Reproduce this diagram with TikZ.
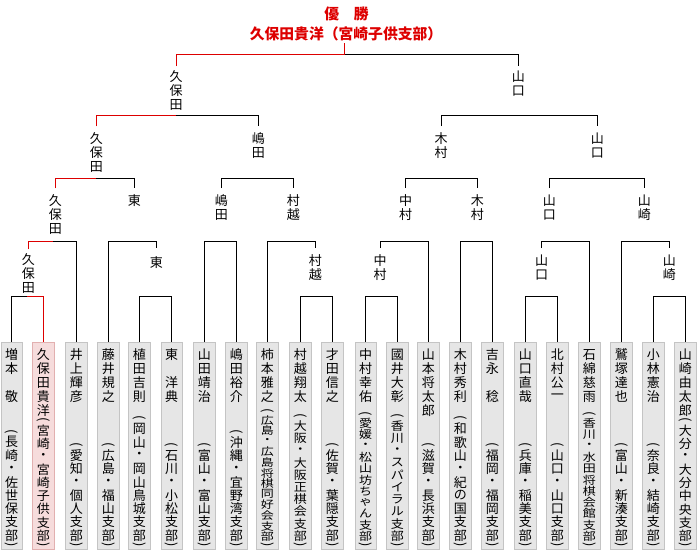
\documentclass[tikz,border=0pt]{standalone}
\usepackage{fontspec}
\setmainfont{Noto Sans CJK JP}
\usepackage{graphicx}
\definecolor{wred}{HTML}{DD0000}
\definecolor{boxfill}{HTML}{E6E6E6}
\definecolor{boxline}{HTML}{C4C4C4}
\definecolor{winfill}{HTML}{F6DCDC}
\definecolor{winline}{HTML}{E2B0B0}
\makeatletter
\newdimen\vpitch
\def\vscl{1}
\def\lpm{(}
\def\rpm{)}
\def\vst#1#2#3{\vbox{\offinterlineskip\vpitch=#1\relax\def\vscl{#2}\vst@#3\relax}}
\def\vst@#1{\ifx#1\relax\else\vcell{#1}\expandafter\vst@\fi}
\def\vcell#1{\def\tmpc{#1}%
  \ifx\tmpc\lpm\pcell{\rotatebox[origin=c]{-90}{(}}%
  \else\ifx\tmpc\rpm\pcell{\rotatebox[origin=c]{-90}{)}}%
  \else\ccell{#1}\fi\fi}
\def\ccell#1{\hbox to 15pt{\hss\vbox to\vpitch{\vss\hbox{\scalebox{1}[\vscl]{#1}}\vss}\hss}}
\def\pcell#1{\hbox to 15pt{\hss\vbox to 6.5pt{\vss\hbox{#1}\vss}\hss}}
\makeatother
\newcommand\brk[3]{\draw (#1) -- (#1 |- #3) -- (#2 |- #3) -- (#2);}
\newcommand\player[7][pbox]{%
  \node[#1] (b#2) at (#3,342) {};
  \node[ptext, anchor=north] (n#2) at (#3,347) {\vst{14.1pt}{1}{#4}};
  \node[ptext, anchor=south] (a#2) at (#3,549) {\vst{#6}{#7}{#5}};
}
\newcommand\lab[4][5pt]{\node[labstyle, inner ysep=#1] (#2) at (#3) {\vst{14.2pt}{1}{#4}};}
\begin{document}
\begin{tikzpicture}[x=1pt,y=-1pt,line width=1pt,
  every node/.style={font=\fontsize{13}{14}\selectfont},
  pbox/.style={draw=boxline, fill=boxfill, line width=0.8pt, anchor=north,
    minimum width=21.5pt, minimum height=207pt, inner sep=0pt},
  wbox/.style={pbox, draw=winline, fill=winfill},
  ptext/.style={inner sep=0pt},
  labstyle/.style={anchor=north, inner xsep=0pt},
  titletext/.style={text=wred, inner sep=0pt, font=\fontsize{14.8}{16}\selectfont\bfseries}]
\useasboundingbox (0,0) rectangle (700,550);
% levels
\coordinate (yE) at (0,54.3);
\coordinate (yD) at (0,115.7);
\coordinate (yC) at (0,178.3);
\coordinate (yB) at (0,241);
\coordinate (yA) at (0,296);
% title
\node[titletext] (t1) at (346.5,14) {優　勝};
\node[titletext] (t2) at (346,34) {久保田貴洋（宮崎子供支部）};
\coordinate (top) at (344.3,43.3);
% players
\player[pbox]{0}{11.7}{増本　敬}{(長崎・佐世保支部)}{13.3pt}{1}
\player[wbox]{1}{43.3}{久保田貴洋}{(宮崎・宮崎子供支部)}{13.1pt}{0.96}
\player[pbox]{2}{76.3}{井上輝彦}{(愛知・個人支部)}{13.3pt}{1}
\player[pbox]{3}{108.3}{藤井規之}{(広島・福山支部)}{13.3pt}{1}
\player[pbox]{4}{139.3}{植田吉則}{(岡山・岡山鳥城支部)}{13.3pt}{1}
\player[pbox]{5}{171.7}{東　洋典}{(石川・小松支部)}{13.3pt}{1}
\player[pbox]{6}{204.3}{山田靖治}{(富山・富山支部)}{13.3pt}{1}
\player[pbox]{7}{236.3}{嶋田裕介}{(沖縄・宜野湾支部)}{13.3pt}{1}
\player[pbox]{8}{267.3}{柿本雅之}{(広島・広島将棋同好会支部)}{10.6pt}{0.8}
\player[pbox]{9}{300.3}{村越翔太}{(大阪・大阪正棋会支部)}{12.2pt}{0.9}
\player[pbox]{10}{332.3}{才田信之}{(佐賀・葉隠支部)}{13.3pt}{1}
\player[pbox]{11}{365.7}{中村幸佑}{(愛媛・松山坊ちゃん支部)}{11.3pt}{0.85}
\player[pbox]{12}{397.3}{國井大彰}{(香川・スパイラル支部)}{12.2pt}{0.9}
\player[pbox]{13}{428.3}{山本将太郎}{(滋賀・長浜支部)}{13.3pt}{1}
\player[pbox]{14}{460.3}{木村秀利}{(和歌山・紀の国支部)}{13.3pt}{1}
\player[pbox]{15}{492.3}{吉永　稔}{(福岡・福岡支部)}{13.3pt}{1}
\player[pbox]{16}{525.3}{山口直哉}{(兵庫・稲美支部)}{13.3pt}{1}
\player[pbox]{17}{557.3}{北村公一}{(山口・山口支部)}{13.3pt}{1}
\player[pbox]{18}{589.3}{石綿慈雨}{(香川・水田将棋会館支部)}{11.3pt}{0.85}
\player[pbox]{19}{621.3}{鷲塚達也}{(富山・新湊支部)}{13.3pt}{1}
\player[pbox]{20}{653.3}{小林憲治}{(奈良・結崎支部)}{13.3pt}{1}
\player[pbox]{21}{685.3}{山崎由太郎}{(大分・大分中央支部)}{13.1pt}{0.96}
% winner labels
\lab[3pt]{LE1}{176,66}{久保田}
\lab[3pt]{LE2}{518.3,66}{山口}
\lab{LD1}{96.3,126}{久保田}
\lab{LD2}{258.3,126}{嶋田}
\lab{LD3}{441,126}{木村}
\lab{LD4}{597.3,126}{山口}
\lab{LC1}{55.3,188}{久保田}
\lab{LC2}{134.3,188}{東}
\lab{LC3}{221.3,188}{嶋田}
\lab{LC4}{293.3,188}{村越}
\lab{LC5}{405.7,188}{中村}
\lab{LC6}{477.3,188}{木村}
\lab{LC7}{549.3,188}{山口}
\lab{LC8}{644.3,188}{山崎}
\lab[3pt]{LB1}{28.3,249}{久保田}
\lab[7pt]{LB2}{156.3,248}{東}
\lab{LB3}{315.3,248}{村越}
\lab{LB4}{380,248}{中村}
\lab{LB5}{541.5,248}{山口}
\lab{LB6}{669.3,248}{山崎}
% first round
\brk{b0.north}{b1.north}{yA}
\brk{b4.north}{b5.north}{yA}
\brk{b9.north}{b10.north}{yA}
\brk{b11.north}{b12.north}{yA}
\brk{b16.north}{b17.north}{yA}
\brk{b20.north}{b21.north}{yA}
% level B
\brk{LB1.north}{b2.north}{yB}
\brk{b3.north}{LB2.north}{yB}
\brk{b6.north}{b7.north}{yB}
\brk{b8.north}{LB3.north}{yB}
\brk{LB4.north}{b13.north}{yB}
\brk{b14.north}{b15.north}{yB}
\brk{LB5.north}{b18.north}{yB}
\brk{b19.north}{LB6.north}{yB}
% level C
\brk{LC1.north}{LC2.north}{yC}
\brk{LC3.north}{LC4.north}{yC}
\brk{LC5.north}{LC6.north}{yC}
\brk{LC7.north}{LC8.north}{yC}
% level D
\brk{LD1.north}{LD2.north}{yD}
\brk{LD3.north}{LD4.north}{yD}
% level E
\brk{LE1.north}{LE2.north}{yE}
% winner path
\coordinate (rD) at (176,115.7);
\coordinate (rC) at (96.3,178.3);
\coordinate (rB) at (52.7,241);
\coordinate (rA) at (27.3,296);
\begin{scope}[draw=wred]
\draw (top) -- (top |- yE) -- (LE1.north |- yE) -- (LE1.north);
\draw (LD1.north) -- (LD1.north |- yD) -- (rD);
\draw (LC1.north) -- (LC1.north |- yC) -- (rC);
\draw (LB1.north) -- (LB1.north |- yB) -- (rB);
\draw (rA) -- (b1.north |- yA) -- (b1.north);
\end{scope}
\end{tikzpicture}
\end{document}
